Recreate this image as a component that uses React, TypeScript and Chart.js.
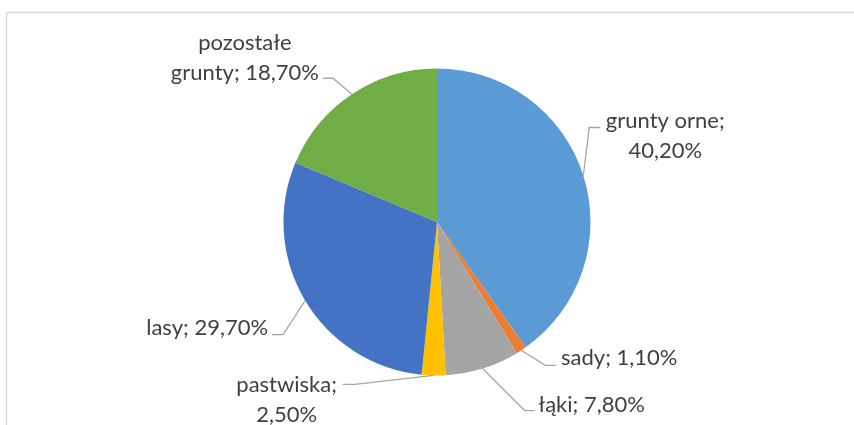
import React, { useEffect, useRef } from "react";
import { Chart, registerables } from "chart.js";

Chart.register(...registerables);

const categories = ["grunty orne", "sady", "łąki", "pastwiska", "lasy", "pozostałe grunty"];
const values = [40.2, 1.1, 7.8, 2.5, 29.7, 18.7];
const colors = ["#5B9BD5", "#ED7D31", "#A5A5A5", "#FFC000", "#4472C4", "#70AD47"];
const labelLines = [
  ["grunty orne;", "40,20%"],
  ["sady; 1,10%"],
  ["łąki; 7,80%"],
  ["pastwiska;", "2,50%"],
  ["lasy; 29,70%"],
  ["pozostałe", "grunty; 18,70%"],
];
// layout of labels relative to the slice's edge anchor: elbow, line end, text centre (first line)
const labelLayout = [
  { ex: 6, ey: -48, hx: 17, tx: 82, ty: -55 },
  { ex: 24, ey: 15, hx: 35, tx: 98, ty: 8 },
  { ex: 42, ey: 42, hx: 52, tx: 109, ty: 36 },
  { ex: -79, ey: 9, hx: -91, tx: -147, ty: 9 },
  { ex: -22, ey: 34, hx: -33, tx: -98, ty: 27 },
  { ex: -19, ey: -16, hx: -29, tx: -107, ty: -51 },
];

const FONT = "22px Lato, 'Open Sans', sans-serif";

const labelPlugin = {
  id: "pieLabels",
  beforeDraw(chart: any) {
    const ctx = chart.ctx;
    ctx.save();
    ctx.strokeStyle = "#D9D9D9";
    ctx.lineWidth = 1.5;
    ctx.strokeRect(6.5, 12.5, chart.width + 20, chart.height + 20);
    ctx.restore();
  },
  afterDraw(chart: any) {
    const ctx = chart.ctx;
    const meta = chart.getDatasetMeta(0);
    ctx.save();
    meta.data.forEach((arc: any, i: number) => {
      const p = arc.getProps(["x", "y", "startAngle", "endAngle", "outerRadius"], true);
      const mid = (p.startAngle + p.endAngle) / 2;
      const ax = p.x + Math.cos(mid) * p.outerRadius;
      const ay = p.y + Math.sin(mid) * p.outerRadius;
      const L = labelLayout[i];
      ctx.strokeStyle = "#A6A6A6";
      ctx.lineWidth = 1.3;
      ctx.beginPath();
      ctx.moveTo(ax, ay);
      ctx.lineTo(ax + L.ex, ay + L.ey);
      ctx.lineTo(ax + L.hx, ay + L.ey);
      ctx.stroke();
      ctx.fillStyle = "#404040";
      ctx.font = FONT;
      ctx.textAlign = "center";
      ctx.textBaseline = "middle";
      labelLines[i].forEach((t, j) => {
        ctx.fillText(t, ax + L.tx, ay + L.ty + j * 30);
      });
    });
    ctx.restore();
  },
};

export default function App() {
  const ref = useRef<HTMLCanvasElement | null>(null);
  useEffect(() => {
    if (!ref.current) return;
    const chart = new Chart(ref.current, {
      type: "pie",
      data: {
        labels: categories,
        datasets: [
          {
            data: values,
            backgroundColor: colors,
            borderWidth: 0,
          },
        ],
      },
      options: {
        responsive: false,
        maintainAspectRatio: false,
        animation: false,
        layout: { padding: { left: 20, right: 0, top: 68.5, bottom: 49.5 } },
        plugins: {
          legend: { display: false },
          tooltip: { enabled: false },
        },
      },
      plugins: [labelPlugin],
    });
    return () => chart.destroy();
  }, []);
  return (
    <div style={{ position: "fixed", left: 0, top: 0, width: 854, height: 425, background: "#fff" }}>
      <canvas ref={ref} width={854} height={425} style={{ width: 854, height: 425 }} />
    </div>
  );
}
